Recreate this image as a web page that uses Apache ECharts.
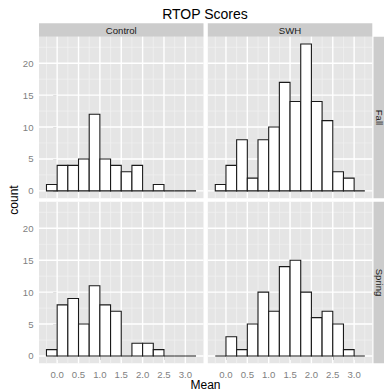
<!DOCTYPE html>
<html><head><meta charset="utf-8">
<script src="https://cdn.jsdelivr.net/npm/echarts@6/dist/echarts.min.js"></script>
<style>html,body{margin:0;padding:0;background:#fff}#c{width:384px;height:391px}</style>
</head><body><div id="c"></div>
<script>
// ---- data ----
const binEdges = [-0.25, 0, 0.25, 0.5, 0.75, 1, 1.25, 1.5, 1.75, 2, 2.25, 2.5, 2.75, 3, 3.25];
const controlFall   = [1, 4, 4, 5, 12, 5, 4, 3, 4, 0, 1, 0, 0, 0];
const swhFall       = [1, 4, 8, 2, 8, 10, 17, 14, 23, 14, 11, 3, 2, 0];
const controlSpring = [1, 8, 9, 5, 11, 8, 7, 0, 2, 2, 1, 0, 0, 0];
const swhSpring     = [0, 3, 1, 5, 10, 7, 14, 15, 10, 6, 7, 5, 1, 0];
const colFacets = ['Control', 'SWH'];
const rowFacets = ['Fall', 'Spring'];
const xTicks = [0, 0.5, 1, 1.5, 2, 2.5, 3];
const xMinor = [-0.25, 0.25, 0.75, 1.25, 1.75, 2.25, 2.75, 3.25];
const yTicks = [0, 5, 10, 15, 20];
const yMinor = [2.5, 7.5, 12.5, 17.5, 22.5];
const titleText = 'RTOP Scores';
const xTitle = 'Mean';
const yTitle = 'count';

const panelData = [[controlFall, swhFall], [controlSpring, swhSpring]];

// ---- layout ----
const FONT = 'Liberation Sans, Arial, Helvetica, sans-serif';
const colX = [39, 207.8];
const rowY = [36.7, 201.8];
const PW = 164.5, PH = 161.5;
const xMin = -0.425, xMax = 3.425, yMin = -1.15, yMax = 24.15;

const grids = [], xAxes = [], yAxes = [], series = [], graphics = [];

function vLines(vals, idx, color, width, z) {
  return {
    type: 'custom', xAxisIndex: idx, yAxisIndex: idx, silent: true, z: z,
    data: vals.map(v => [v, 0]),
    encode: { x: 0, y: 1 },
    renderItem: function (params, api) {
      const cs = params.coordSys;
      const x = api.coord([api.value(0), 0])[0];
      return { type: 'line', shape: { x1: x, y1: cs.y, x2: x, y2: cs.y + cs.height },
        style: { stroke: color, lineWidth: width } };
    }
  };
}
function hLines(vals, idx, color, width, z) {
  return {
    type: 'custom', xAxisIndex: idx, yAxisIndex: idx, silent: true, z: z,
    data: vals.map(v => [0, v]),
    encode: { x: 0, y: 1 },
    renderItem: function (params, api) {
      const cs = params.coordSys;
      const y = api.coord([0, api.value(1)])[1];
      return { type: 'line', shape: { x1: cs.x, y1: y, x2: cs.x + cs.width, y2: y },
        style: { stroke: color, lineWidth: width } };
    }
  };
}

let idx = 0;
for (let r = 0; r < 2; r++) {
  for (let c = 0; c < 2; c++) {
    grids.push({ left: colX[c], top: rowY[r], width: PW, height: PH,
      show: true, backgroundColor: '#E5E5E5', borderWidth: 0, containLabel: false });
    const bottom = r === 1, leftSide = c === 0;
    xAxes.push({
      type: 'value', gridIndex: idx, min: xMin, max: xMax,
      axisLine: { show: false }, splitLine: { show: false },
      axisTick: { show: bottom, length: 4, lineStyle: { color: '#7F7F7F', width: 1 }, customValues: xTicks },
      axisLabel: { show: bottom, customValues: xTicks, margin: 6.5, color: '#7F7F7F',
        fontSize: 9.6, fontFamily: FONT, formatter: v => v.toFixed(1) }
    });
    yAxes.push({
      type: 'value', gridIndex: idx, min: yMin, max: yMax,
      axisLine: { show: false }, splitLine: { show: false },
      axisTick: { show: leftSide, length: 4, lineStyle: { color: '#7F7F7F', width: 1 }, customValues: yTicks },
      axisLabel: { show: leftSide, customValues: yTicks, margin: 5.5, color: '#7F7F7F',
        fontSize: 9.6, fontFamily: FONT, formatter: v => String(v) }
    });
    series.push(vLines(xMinor, idx, '#F2F2F2', 0.7, 1));
    series.push(hLines(yMinor, idx, '#F2F2F2', 0.7, 1));
    series.push(vLines(xTicks, idx, '#FFFFFF', 1.4, 2));
    series.push(hLines(yTicks, idx, '#FFFFFF', 1.4, 2));
    const counts = panelData[r][c];
    series.push({
      type: 'custom', xAxisIndex: idx, yAxisIndex: idx, silent: true, z: 5,
      data: counts.map((n, i) => [binEdges[i], binEdges[i + 1], n]),
      encode: { x: [0, 1], y: 2 },
      renderItem: function (params, api) {
        const p0 = api.coord([api.value(0), api.value(2)]);
        const p1 = api.coord([api.value(1), 0]);
        return { type: 'rect', shape: { x: p0[0], y: p0[1], width: p1[0] - p0[0], height: p1[1] - p0[1] },
          style: { fill: '#FFFFFF', stroke: '#1A1A1A', lineWidth: 1.1 } };
      }
    });
    idx++;
  }
}

// strips
const stripTop = 23.3, stripH = 13.4;
for (let c = 0; c < 2; c++) {
  graphics.push({ type: 'rect', shape: { x: colX[c], y: stripTop, width: PW, height: stripH },
    style: { fill: '#CCCCCC' }, silent: true });
  graphics.push({ type: 'text', x: colX[c] + PW / 2, y: stripTop + stripH / 2,
    style: { text: colFacets[c], fill: '#1A1A1A', font: '9.6px ' + FONT, align: 'center', verticalAlign: 'middle' }, silent: true });
}
const stripX = 373.5, stripW = 13.4;
for (let r = 0; r < 2; r++) {
  graphics.push({ type: 'rect', shape: { x: stripX, y: rowY[r], width: stripW, height: PH },
    style: { fill: '#CCCCCC' }, silent: true });
  graphics.push({ type: 'text', x: stripX + stripW / 2 - 1.2, y: rowY[r] + PH / 2, rotation: -Math.PI / 2,
    style: { text: rowFacets[r], fill: '#1A1A1A', font: '9.6px ' + FONT, align: 'center', verticalAlign: 'middle' }, silent: true });
}
// titles
graphics.push({ type: 'text', x: 205, y: 13.5,
  style: { text: titleText, fill: '#000', font: '14px ' + FONT, align: 'center', verticalAlign: 'middle' }, silent: true });
graphics.push({ type: 'text', x: 205.5, y: 385,
  style: { text: xTitle, fill: '#000', font: '12px ' + FONT, align: 'center', verticalAlign: 'middle' }, silent: true });
graphics.push({ type: 'text', x: 13.5, y: 200, rotation: Math.PI / 2,
  style: { text: yTitle, fill: '#000', font: '12px ' + FONT, align: 'center', verticalAlign: 'middle' }, silent: true });

const chart = echarts.init(document.getElementById('c'), null, { renderer: 'svg', width: 384, height: 391 });
chart.setOption({
  animation: false,
  backgroundColor: '#FFFFFF',
  grid: grids, xAxis: xAxes, yAxis: yAxes, series: series, graphic: graphics
});
</script>
</body></html>
